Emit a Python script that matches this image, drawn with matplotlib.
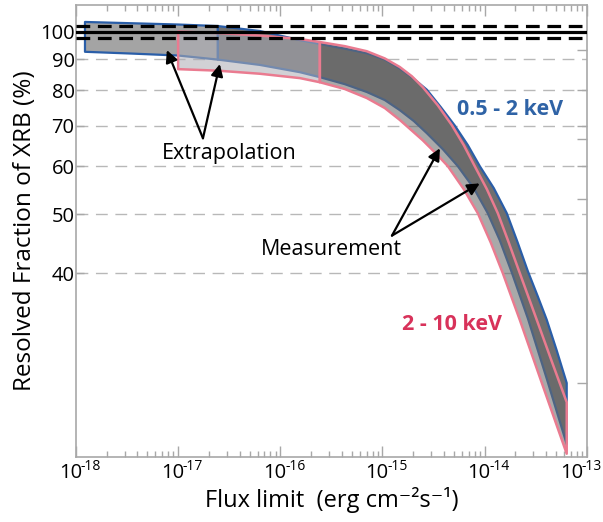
# Resolved fraction of the X-ray background vs flux limit
import numpy as np
import matplotlib
matplotlib.use('Agg')
import matplotlib.pyplot as plt
from matplotlib.ticker import FixedLocator, NullFormatter, NullLocator, LogLocator

plt.rcParams['font.family'] = ['Open Sans', 'DejaVu Sans']

# 0.5 - 2 keV band (upper / lower edge), flux in erg cm^-2 s^-1, fraction in %
flux_blue_hi = [1.225e-18, 1.0e-17, 2.45e-17, 6.31e-17, 1.556e-16, 2.44e-16, 4.28e-16, 7.03e-16,
                1.055e-15, 1.48e-15, 1.94e-15, 2.72e-15, 3.72e-15, 5.11e-15, 6.85e-15, 8.98e-15,
                1.231e-14, 1.649e-14, 2.11e-14, 2.65e-14, 3.32e-14, 4.06e-14, 5.09e-14, 6.37e-14]
blue_hi = [103.7, 102.7, 102.1, 100.2, 96.8, 95.4, 93.7, 92.1,
           89.9, 86.9, 84.1, 80.2, 75.1, 70.0, 65.0, 60.0,
           55.2, 50.2, 44.9, 40.3, 36.6, 33.5, 29.8, 26.35]
flux_blue_lo = [1.225e-18, 3.38e-18, 1.0e-17, 2.45e-17, 6.31e-17, 1.556e-16, 2.44e-16, 4.28e-16,
                7.03e-16, 1.055e-15, 1.48e-15, 2.03e-15, 2.72e-15, 3.90e-15, 5.47e-15, 7.84e-15,
                1.074e-14, 1.409e-14, 1.846e-14, 2.65e-14, 4.06e-14, 6.37e-14]
blue_lo = [92.6, 92.0, 91.3, 89.9, 88.1, 85.7, 84.1, 81.9,
           79.5, 77.1, 74.2, 71.2, 68.0, 64.0, 60.0, 55.2,
           50.2, 45.3, 40.1, 33.7, 26.8, 20.9]
blue_split = 2.45e-17   # end of extrapolation

# 2 - 10 keV band
flux_red_hi = [1.0e-17, 2.56e-17, 6.31e-17, 1.556e-16, 2.44e-16, 4.28e-16, 7.03e-16, 1.055e-15,
               1.48e-15, 1.94e-15, 2.48e-15, 3.48e-15, 4.78e-15, 6.25e-15, 8.01e-15, 1.052e-14,
               1.347e-14, 1.725e-14, 2.21e-14, 3.24e-14, 4.55e-14, 6.37e-14]
red_hi = [100.0, 99.4, 98.5, 97.2, 96.1, 94.6, 92.8, 90.3,
          87.4, 84.4, 81.0, 75.6, 70.1, 65.0, 60.0, 55.0,
          50.2, 44.9, 40.0, 33.5, 28.6, 24.5]
flux_red_lo = [1.0e-17, 2.45e-17, 6.31e-17, 1.556e-16, 2.44e-16, 4.28e-16, 7.03e-16, 1.055e-15,
               1.48e-15, 2.48e-15, 3.33e-15, 4.37e-15, 6.25e-15, 8.58e-15, 1.150e-14, 1.507e-14,
               2.21e-14, 3.71e-14, 6.37e-14]
red_lo = [86.7, 86.2, 85.2, 83.8, 82.5, 80.4, 77.7, 74.8,
          71.5, 66.2, 63.0, 60.0, 55.0, 50.2, 44.9, 40.0,
          33.5, 26.1, 20.15]
red_split = 2.44e-16

ytick_vals = [40, 50, 60, 70, 80, 90, 100]
right_ticks = [26.4, 40, 53, 60, 66.6, 70, 80, 93.2]
decades = [-18, -17, -16, -15, -14, -13]

BLUE = '#2a5ea8'
RED = '#ea7b90'
FRAME = '#a8a8a8'


def split(xs, ys, s):
    xs = np.array(xs); ys = np.array(ys)
    return (xs[xs <= s], ys[xs <= s]), (xs[xs >= s], ys[xs >= s])


def band(ax, xu, yu, xl, yl, face, edge, lw, z):
    px = np.concatenate([xu, xl[::-1]])
    py = np.concatenate([yu, yl[::-1]])
    ax.fill(px, py, facecolor=face, edgecolor=edge, lw=lw, zorder=z, joinstyle='round')


fig = plt.figure(figsize=(6.03, 5.22), dpi=100)
ax = fig.add_axes([0.126, 0.1245, 0.847, 0.8655])
ax.set_xscale('log')
ax.set_yscale('log')
ax.set_xlim(1e-18, 1e-13)
ax.set_ylim(19.9, 110.5)

# grid
for v in ytick_vals[:-1]:
    ax.axhline(v, color='#b8b8b8', lw=1.0, ls=(0, (8.5, 5.5)), zorder=1)

# blue band (drawn first, opaque)
(bux1, buy1), (bux2, buy2) = split(flux_blue_hi, blue_hi, blue_split)
(blx1, bly1), (blx2, bly2) = split(flux_blue_lo, blue_lo, blue_split)
band(ax, bux1, buy1, blx1, bly1, '#a4a4a4', BLUE, 1.6, 2)
band(ax, bux2, buy2, blx2, bly2, '#6f6f6f', BLUE, 1.6, 2)

# red band on top, semi transparent
(rux1, ruy1), (rux2, ruy2) = split(flux_red_hi, red_hi, red_split)
(rlx1, rly1), (rlx2, rly2) = split(flux_red_lo, red_lo, red_split)
band(ax, rux1, ruy1, rlx1, rly1, (0.68, 0.68, 0.71, 0.56), 'none', 0, 3)
band(ax, rux2, ruy2, rlx2, rly2, (0.41, 0.41, 0.41, 0.57), 'none', 0, 3)
band(ax, rux1, ruy1, rlx1, rly1, 'none', RED, 1.8, 4)
band(ax, rux2, ruy2, rlx2, rly2, 'none', RED, 1.8, 4)

# 100 % reference lines
ax.axhline(100, color='black', lw=2.3, zorder=5)
ax.axhline(102.3, color='black', lw=2.3, ls=(0, (4.3, 2.4)), zorder=5)
ax.axhline(97.7, color='black', lw=2.3, ls=(0, (4.3, 2.4)), zorder=5)

# annotations
arr = dict(arrowstyle='-|>', lw=1.6, color='black', mutation_scale=18, shrinkA=0, shrinkB=0)
ax.annotate('', xy=(7.76e-18, 93.2), xytext=(1.75e-17, 66.7), arrowprops=arr, zorder=6)
ax.annotate('', xy=(2.56e-17, 88.4), xytext=(1.75e-17, 66.7), arrowprops=arr, zorder=6)
ax.text(3.14e-17, 63.0, 'Extrapolation', fontsize=15.5, ha='center', va='center', zorder=6)

ax.annotate('', xy=(3.65e-15, 64.2), xytext=(1.24e-15, 46.1), arrowprops=arr, zorder=6)
ax.annotate('', xy=(8.97e-15, 56.2), xytext=(1.24e-15, 46.1), arrowprops=arr, zorder=6)
ax.text(3.13e-16, 43.8, 'Measurement', fontsize=15.5, ha='center', va='center', zorder=6)

ax.text(1.77e-14, 74.5, '0.5 - 2 keV', fontsize=15.5, fontweight='bold', color='#2f63a6',
        ha='center', va='center')
ax.text(4.78e-15, 32.9, '2 - 10 keV', fontsize=15.5, fontweight='bold', color='#d8325a',
        ha='center', va='center')

# axes styling
for s in ax.spines.values():
    s.set_color(FRAME)
    s.set_linewidth(1.2)

ax.xaxis.set_major_locator(FixedLocator([10.0 ** d for d in decades]))
ax.xaxis.set_minor_locator(LogLocator(base=10, subs=np.arange(2, 10), numticks=20))
ax.xaxis.set_major_formatter(NullFormatter())
ax.xaxis.set_minor_formatter(NullFormatter())
ax.tick_params(axis='x', which='major', direction='in', length=8, width=1, color=FRAME, top=True)
ax.tick_params(axis='x', which='minor', direction='in', length=4, width=1, color=FRAME, top=True)

# x tick labels: "10" with a small raised exponent (last one pulled in to fit)
for d in decades:
    shift = -7 if d == decades[-1] else 0
    ax.annotate('10', xy=(10.0 ** d, 0), xycoords=('data', 'axes fraction'),
                xytext=(-4 + shift, -4), textcoords='offset points', ha='center', va='top',
                fontsize=14.5)
    ax.annotate('%d' % d, xy=(10.0 ** d, 0), xycoords=('data', 'axes fraction'),
                xytext=(3.5 + shift, -1.5), textcoords='offset points', ha='left', va='top',
                fontsize=10)

ax.set_yticks(ytick_vals)
ax.set_yticklabels([str(v) for v in ytick_vals])
ax.yaxis.set_minor_locator(NullLocator())
ax.tick_params(axis='y', which='major', direction='in', length=6, width=1, color=FRAME,
               labelsize=14.5, pad=1, right=False)

ax2 = ax.twinx()
ax2.set_yscale('log')
ax2.set_ylim(ax.get_ylim())
ax2.set_yticks(right_ticks)
ax2.yaxis.set_minor_locator(NullLocator())
ax2.set_yticklabels([])
ax2.tick_params(axis='y', direction='in', length=7, width=1, color=FRAME)
for s in ax2.spines.values():
    s.set_visible(False)

ax.set_xlabel('Flux limit  (erg cm\u207b\u00b2s\u207b\u00b9)', fontsize=17, labelpad=18)
ax.set_ylabel('Resolved Fraction of XRB (%)', fontsize=17.5, labelpad=2)

fig.savefig('out.png', dpi=100)
